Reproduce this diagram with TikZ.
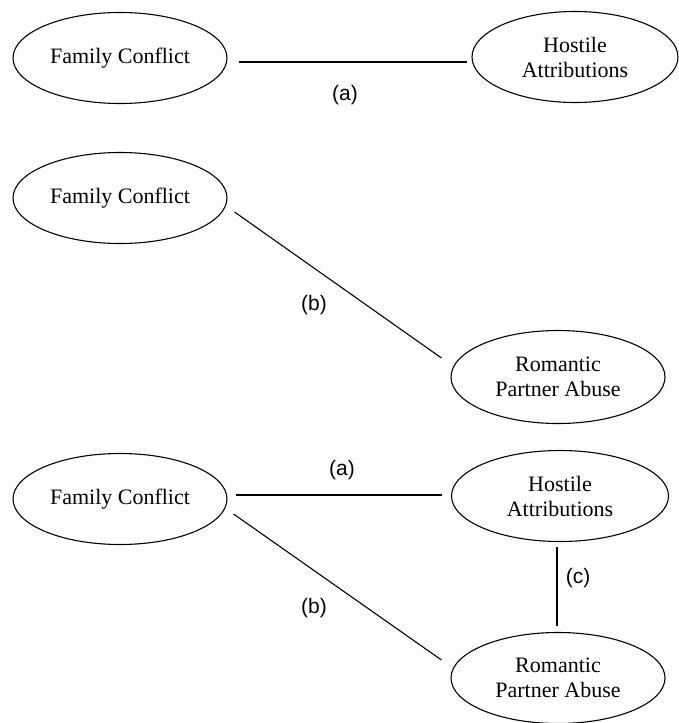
\documentclass[tikz,border=0pt]{standalone}
\usepackage{fontspec}
\setmainfont{Liberation Serif}
\newfontfamily\tagfont{Liberation Sans}
\usepackage{tikz}
\usetikzlibrary{shapes.geometric}
\tikzset{
  oval/.style={ellipse, draw, line width=1.1pt, align=center, inner sep=0pt,
    minimum width=214pt, minimum height=91pt, font=\fontsize{22}{25}\selectfont},
  link/.style={line width=1.1pt},
  tag/.style={inner sep=0pt, font=\tagfont\fontsize{21}{24}\selectfont}
}
\begin{document}
\begin{tikzpicture}[x=1pt, y=-1pt]
        \useasboundingbox (0,0) rectangle (678,723);
        % first model
        \node[oval] (fca) at (120,58) {Family Conflict};
        \node[oval, minimum width=206pt] (haa) at (575,57) {Hostile\\Attributions};
        \draw[link] ([xshift=11pt,yshift=-4pt]fca.east) -- ([xshift=-4pt,yshift=-5pt]haa.west);
        \node[tag] (taga) at (345,95) {(a)};
        % second model
        \node[oval] (fcb) at (120,198) {Family Conflict};
        \node[oval, minimum height=93pt] (rpb) at (558,377) {Romantic\\Partner Abuse};
        \draw[link] ([xshift=7pt,yshift=-14pt]fcb.east) -- ([xshift=-9pt,yshift=19pt]rpb.west);
        \node[tag] (tagb) at (314,305) {(b)};
        % full model
        \node[oval] (fcc) at (120,499) {Family Conflict};
        \node[oval, minimum width=217pt] (hac) at (560,496) {Hostile\\Attributions};
        \node[oval] (rpc) at (558,678) {Romantic\\Partner Abuse};
        \draw[link] ([xshift=8pt,yshift=4pt]fcc.east) -- ([xshift=-9pt,yshift=1pt]hac.west);
        \draw[link] ([xshift=6pt,yshift=-15pt]fcc.east) -- ([xshift=-9pt,yshift=18pt]rpc.west);
        \draw[link] ([xshift=-3pt,yshift=-5pt]hac.south) -- ([xshift=-1pt,yshift=6pt]rpc.north);
        \node[tag] (tagc) at (342,470) {(a)};
        \node[tag] (tagd) at (314,608) {(b)};
        \node[tag] (tage) at (578,578) {(c)};
      \end{tikzpicture}
\end{document}
